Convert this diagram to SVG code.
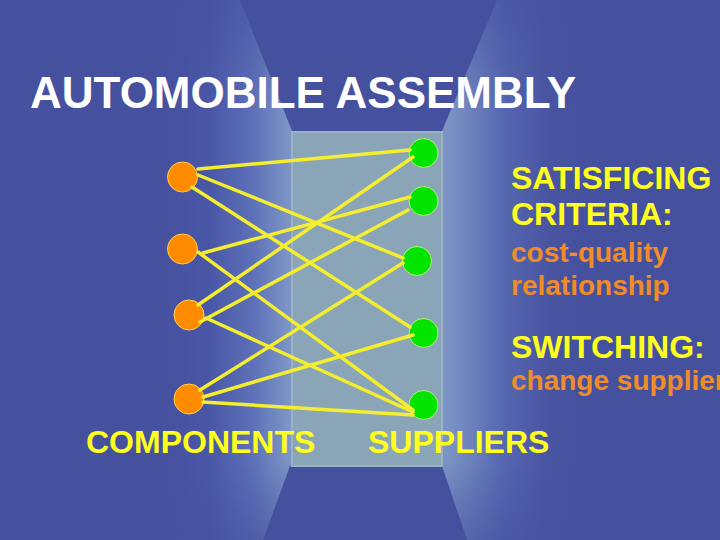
<svg xmlns="http://www.w3.org/2000/svg" width="720" height="540" viewBox="0 0 720 540">
  <defs>
    <linearGradient id="glow" x1="160" y1="0" x2="580" y2="0" gradientUnits="userSpaceOnUse">
      <stop offset="0" stop-color="#45509E"/>
      <stop offset="0.12" stop-color="#4A57A7"/>
      <stop offset="0.22" stop-color="#5D70B8"/>
      <stop offset="0.31" stop-color="#7E96C6"/>
      <stop offset="0.5" stop-color="#8EA8C4"/>
      <stop offset="0.69" stop-color="#7B92C4"/>
      <stop offset="0.82" stop-color="#5566B0"/>
      <stop offset="0.92" stop-color="#4A55A2"/>
      <stop offset="1" stop-color="#45509E"/>
    </linearGradient>
    <linearGradient id="fadeV" x1="0" y1="0" x2="0" y2="540" gradientUnits="userSpaceOnUse">
      <stop offset="0" stop-color="#45509E" stop-opacity="0.6"/>
      <stop offset="0.2" stop-color="#45509E" stop-opacity="0"/>
      <stop offset="0.85" stop-color="#45509E" stop-opacity="0"/>
      <stop offset="1" stop-color="#45509E" stop-opacity="0.6"/>
    </linearGradient>
    <style>
      .edge { stroke: #F5EE2E; stroke-width: 3.5; stroke-linecap: round; fill: none; }
      .comp { fill: #FF8C00; stroke: #FFD24A; stroke-width: 1; }
      .supp { fill: #00E400; stroke: #B8F070; stroke-width: 1; }
      .title { font-family: "Liberation Sans", Arial, sans-serif; font-weight: bold; font-size: 44px; fill: #FFFFFF; }
      .head { font-family: "Liberation Sans", Arial, sans-serif; font-weight: bold; font-size: 32px; fill: #FFFF1E; }
      .sub { font-family: "Liberation Sans", Arial, sans-serif; font-weight: bold; font-size: 28px; fill: #F08C28; }
    </style>
  </defs>

  <g id="background">
    <rect x="0" y="0" width="720" height="540" fill="#45509E"/>
    <rect x="0" y="0" width="720" height="540" fill="url(#glow)"/>
    <rect x="0" y="0" width="720" height="540" fill="url(#fadeV)"/>
    <polygon points="240,0 497,0 442,131 292,131" fill="#45509E"/>
    <polygon points="290,466 442,466 467,540 263,540" fill="#45509E"/>
    <rect x="292" y="132" width="150" height="334" fill="#8AA5B8" stroke="#9AB2C4" stroke-width="2"/>
  </g>

  <g id="title">
    <text class="title" x="30" y="108">AUTOMOBILE ASSEMBLY</text>
  </g>

  <g id="component-1"><circle class="comp" cx="182.5" cy="177" r="15"/></g>
  <g id="component-2"><circle class="comp" cx="182.5" cy="249" r="15"/></g>
  <g id="component-3"><circle class="comp" cx="189" cy="315" r="15"/></g>
  <g id="component-4"><circle class="comp" cx="189" cy="399" r="15"/></g>

  <g id="supplier-1"><circle class="supp" cx="423.5" cy="153" r="14.5"/></g>
  <g id="supplier-2"><circle class="supp" cx="423.5" cy="201" r="14.5"/></g>
  <g id="supplier-3"><circle class="supp" cx="417" cy="261" r="14.5"/></g>
  <g id="supplier-4"><circle class="supp" cx="423.5" cy="333" r="14.5"/></g>
  <g id="supplier-5"><circle class="supp" cx="423.5" cy="405" r="14.5"/></g>

  <g id="connectors">
    <line class="edge" x1="198" y1="169" x2="410" y2="150"/>
    <line class="edge" x1="198" y1="175" x2="403" y2="258"/>
    <line class="edge" x1="192" y1="187" x2="410" y2="327"/>
    <line class="edge" x1="203" y1="253" x2="410" y2="197"/>
    <line class="edge" x1="198" y1="252" x2="413" y2="410"/>
    <line class="edge" x1="198" y1="305" x2="413" y2="157"/>
    <line class="edge" x1="200" y1="322" x2="408" y2="210"/>
    <line class="edge" x1="206" y1="318" x2="413" y2="412"/>
    <line class="edge" x1="200" y1="390" x2="403" y2="263"/>
    <line class="edge" x1="203" y1="397" x2="413" y2="335"/>
    <line class="edge" x1="203" y1="402" x2="413" y2="415"/>
  </g>

  <g id="labels">
    <text class="head" x="86" y="453">COMPONENTS</text>
    <text class="head" x="368" y="453">SUPPLIERS</text>
    <text class="head" x="511" y="189">SATISFICING</text>
    <text class="head" x="511" y="225">CRITERIA:</text>
    <text class="sub" x="511" y="262">cost-quality</text>
    <text class="sub" x="511" y="295">relationship</text>
    <text class="head" x="511" y="358">SWITCHING:</text>
    <text class="sub" x="511" y="390">change supplier</text>
  </g>
</svg>
